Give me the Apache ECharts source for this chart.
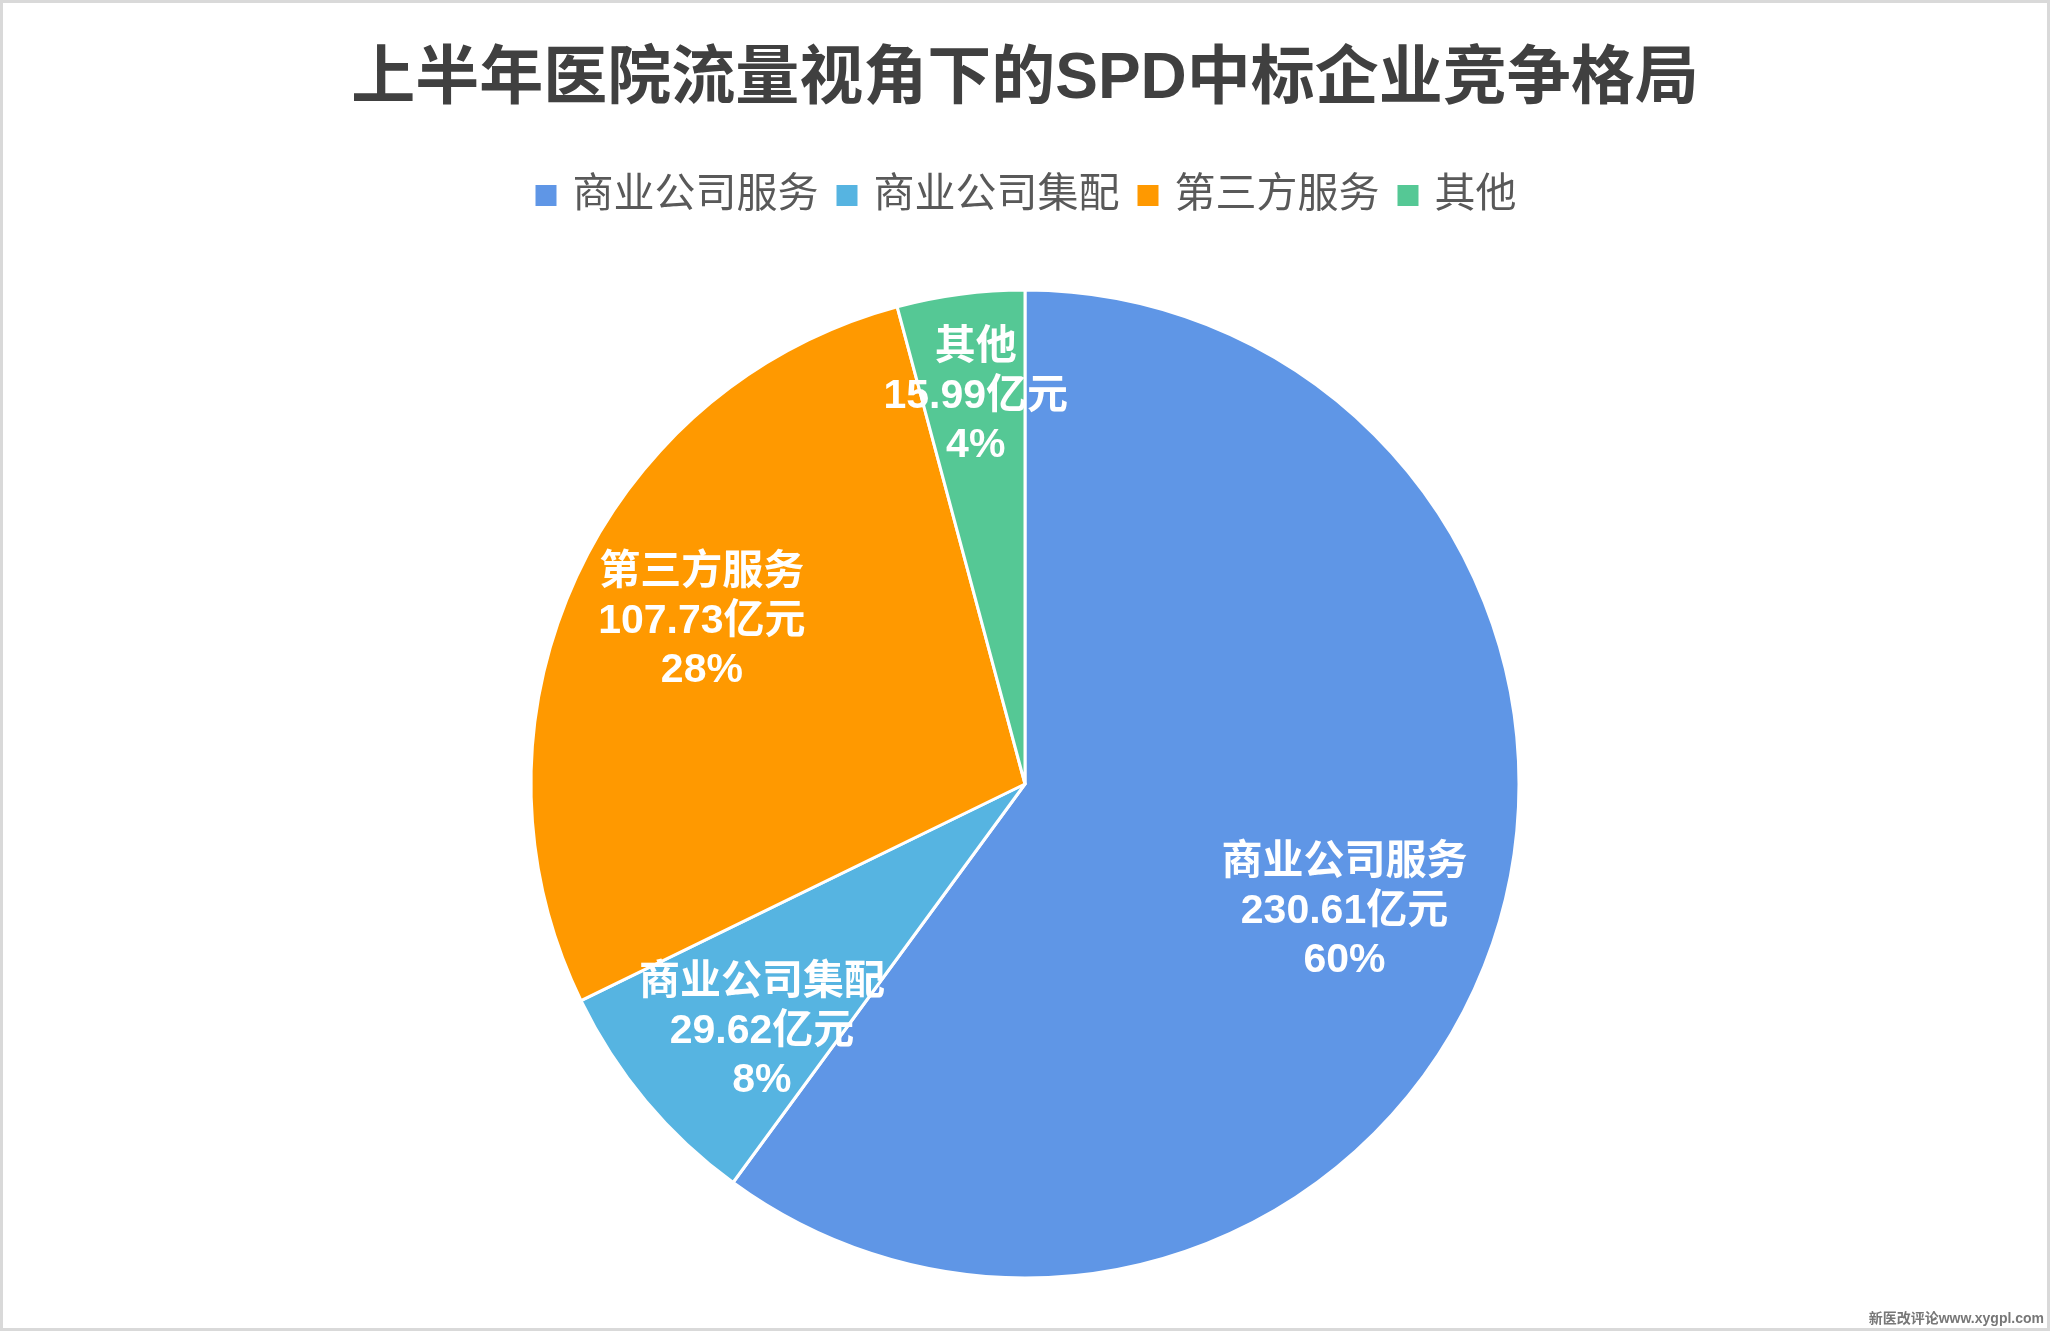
<!DOCTYPE html>
<html lang="zh" style="height:100%">
<head>
    <meta charset="UTF-8">
    <title>SPD中标企业竞争格局</title>
</head>
<body style="height: 100%; margin: 0; background: #fff">
<div id="container" style="width: 2050px; height: 1331px; box-sizing: border-box; border: 3px solid #d9d9d9"></div>
<script type="text/javascript" src="https://cdn.jsdelivr.net/npm/echarts@6/dist/echarts.min.js"></script>
<script type="text/javascript">

    var categories = ['商业公司服务', '商业公司集配', '第三方服务', '其他'];
    var values = [230.61, 29.62, 107.73, 15.99];
    var colors = ['#5f96e6', '#56b4e1', '#ff9900', '#55c895'];

    var dom = document.getElementById("container");
    var myChart = echarts.init(dom);
    var font = '"Liberation Sans", "Noto Sans CJK SC", sans-serif';
    var center = [1022, 781];

    // 标签的微调（像素），让位置和原图一致
    var nudge = {
        '商业公司服务': [-16, 18],
        '商业公司集配': [17, 14],
        '第三方服务': [9, -11],
        '其他': [2, 2]
    };

    var pieData = categories.map(function (name, i) {
        return {name: name, value: values[i], itemStyle: {color: colors[i]}};
    });

    // 透明的辅助饼图，只用来把标签放到更靠外的位置
    var labelRing = function (outer, names) {
        return {
            type: 'pie',
            silent: true,
            center: center,
            radius: [0, outer],
            startAngle: 90,
            percentPrecision: 0,
            itemStyle: {color: 'rgba(0,0,0,0)', borderWidth: 0},
            label: {
                show: true,
                position: 'inside',
                formatter: function (p) {
                    if (names.indexOf(p.name) < 0) return '';
                    return p.name + '\n' + p.value + '亿元\n' + p.percent + '%';
                },
                color: '#fff',
                fontFamily: font,
                fontWeight: 'bold',
                fontSize: 41,
                lineHeight: 49
            },
            labelLayout: function (params) {
                var d = nudge[categories[params.dataIndex]];
                return {dx: d[0], dy: d[1]};
            },
            labelLine: {show: false},
            data: categories.map(function (name, i) {
                return {name: name, value: values[i]};
            })
        };
    };

    var option = {
        backgroundColor: '#fff',
        animation: false,
        title: {
            text: '上半年医院流量视角下的SPD中标企业竞争格局',
            left: 'center',
            top: 40,
            textStyle: {
                color: '#404040',
                fontFamily: font,
                fontWeight: 'bold',
                fontSize: 64
            }
        },
        legend: {
            data: categories,
            top: 167,
            left: 'center',
            icon: 'rect',
            itemWidth: 23,
            itemHeight: 23,
            itemGap: 16,
            textStyle: {
                color: '#595959',
                fontFamily: font,
                fontSize: 41,
                padding: [0, 0, 0, 10]
            }
        },
        graphic: [{
            type: 'text',
            right: 3,
            bottom: 2,
            style: {
                text: '新医改评论www.xygpl.com',
                fill: '#777',
                font: 'bold 14px "Liberation Sans", "Noto Sans CJK SC", sans-serif'
            }
        }],
        series: [
            {
                name: 'SPD',
                type: 'pie',
                center: center,
                radius: [0, 494],
                startAngle: 90,
                percentPrecision: 0,
                itemStyle: {borderColor: '#fff', borderWidth: 3},
                label: {show: false},
                labelLine: {show: false},
                data: pieData
            },
            labelRing(700, ['商业公司服务']),
            labelRing(724, ['商业公司集配', '第三方服务']),
            labelRing(780, ['其他'])
        ]
    };
    myChart.setOption(option, true);

</script>
</body>
</html>
